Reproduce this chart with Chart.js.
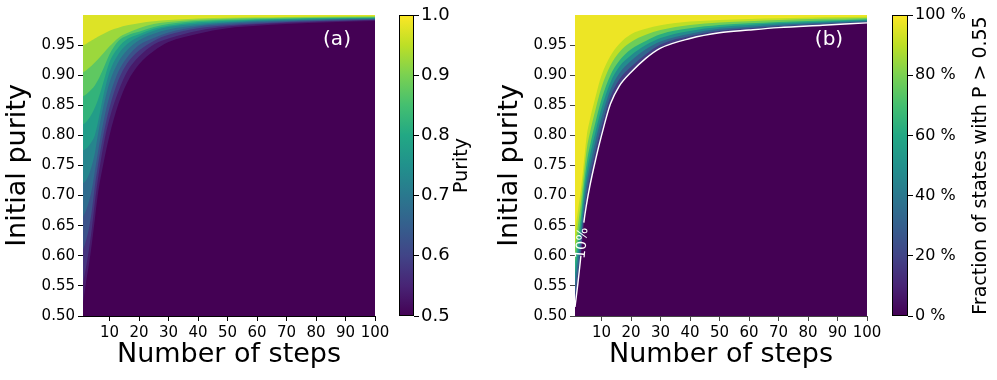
<!DOCTYPE html>
<html><head><meta charset="utf-8">
<script src="https://cdn.jsdelivr.net/npm/chart.js@4.4.1/dist/chart.umd.min.js"></script>
<style>
html,body{margin:0;padding:0;background:#fff;}
#wrap{position:relative;width:997px;height:380px;overflow:hidden;background:#fff;}
#wrap canvas{position:absolute;top:0;}
</style></head><body>
<div id="wrap">
<canvas id="heatA" width="400" height="380" style="left:0px"></canvas>
<canvas id="barA" width="117" height="380" style="left:380px"></canvas>
<canvas id="heatB" width="400" height="380" style="left:492px"></canvas>
<canvas id="barB" width="124" height="380" style="left:873px"></canvas>
</div>
<script>
// ---------------- data ----------------
const stepsGrid = [1, 2, 3, 4, 5, 6, 8, 10, 13, 16, 20, 25, 30, 40, 50, 60, 70, 85, 100];

// Panel (a): initial purity at which the purity after n steps equals each level
const purityLevels = [0.52, 0.55, 0.60, 0.65, 0.70, 0.75, 0.80, 0.85, 0.90, 0.95];
const p0AtP052 = [0.522, 0.555, 0.585, 0.620, 0.660, 0.700, 0.755, 0.800, 0.852, 0.888, 0.918, 0.940, 0.955, 0.969, 0.978, 0.982, 0.985, 0.988, 0.990];
const p0AtP055 = [0.555, 0.580, 0.610, 0.645, 0.688, 0.725, 0.785, 0.828, 0.873, 0.906, 0.931, 0.951, 0.961, 0.974, 0.981, 0.9845, 0.987, 0.9897, 0.9915];
const p0AtP060 = [0.610, 0.625, 0.645, 0.675, 0.715, 0.748, 0.803, 0.846, 0.892, 0.920, 0.941, 0.957, 0.967, 0.978, 0.983, 0.986, 0.9883, 0.9905, 0.9921];
const p0AtP065 = [0.665, 0.675, 0.690, 0.710, 0.740, 0.770, 0.824, 0.865, 0.906, 0.930, 0.950, 0.962, 0.971, 0.981, 0.985, 0.9878, 0.9898, 0.9917, 0.993];
const p0AtP070 = [0.720, 0.725, 0.735, 0.750, 0.770, 0.800, 0.850, 0.888, 0.922, 0.942, 0.958, 0.969, 0.976, 0.983, 0.987, 0.9895, 0.991, 0.9928, 0.9938];
const p0AtP075 = [0.775, 0.778, 0.783, 0.790, 0.800, 0.820, 0.868, 0.905, 0.935, 0.952, 0.964, 0.974, 0.980, 0.9855, 0.9885, 0.9908, 0.9921, 0.9935, 0.9945];
const p0AtP080 = [0.818, 0.822, 0.828, 0.836, 0.846, 0.858, 0.890, 0.922, 0.946, 0.960, 0.968, 0.977, 0.982, 0.9878, 0.9905, 0.9921, 0.9932, 0.9944, 0.9953];
const p0AtP085 = [0.865, 0.868, 0.872, 0.877, 0.883, 0.891, 0.912, 0.935, 0.957, 0.966, 0.972, 0.980, 0.985, 0.990, 0.992, 0.9935, 0.9943, 0.9953, 0.996];
const p0AtP090 = [0.905, 0.908, 0.912, 0.916, 0.921, 0.926, 0.937, 0.948, 0.962, 0.970, 0.978, 0.985, 0.9885, 0.9922, 0.9938, 0.995, 0.9956, 0.9964, 0.9969];
const p0AtP095 = [0.950, 0.952, 0.955, 0.958, 0.961, 0.964, 0.969, 0.974, 0.979, 0.983, 0.9865, 0.9895, 0.9915, 0.994, 0.9953, 0.9962, 0.9968, 0.9974, 0.9978];

// Panel (b): initial purity at which the fraction of states with P > 0.55 equals each level (%)
const fractionLevels = [10, 25, 40, 55, 70, 85, 95];
const p0AtF10 = [0.515, 0.555, 0.600, 0.655, 0.688, 0.715, 0.760, 0.800, 0.852, 0.882, 0.905, 0.928, 0.945, 0.961, 0.9705, 0.975, 0.979, 0.983, 0.987];
const p0AtF25 = [0.534, 0.573, 0.617, 0.670, 0.705, 0.732, 0.776, 0.815, 0.864, 0.893, 0.914, 0.935, 0.951, 0.965, 0.9737, 0.9778, 0.9814, 0.985, 0.9885];
const p0AtF40 = [0.553, 0.591, 0.633, 0.685, 0.722, 0.748, 0.792, 0.830, 0.876, 0.903, 0.924, 0.943, 0.956, 0.969, 0.977, 0.9806, 0.9837, 0.987, 0.9901];
const p0AtF55 = [0.571, 0.609, 0.650, 0.700, 0.738, 0.765, 0.807, 0.845, 0.888, 0.914, 0.933, 0.950, 0.962, 0.9736, 0.980, 0.9833, 0.9861, 0.9889, 0.9916];
const p0AtF70 = [0.590, 0.627, 0.666, 0.715, 0.755, 0.781, 0.823, 0.860, 0.900, 0.924, 0.943, 0.957, 0.968, 0.9778, 0.9832, 0.9861, 0.9885, 0.9909, 0.9931];
const p0AtF85 = [0.615, 0.651, 0.688, 0.735, 0.778, 0.803, 0.844, 0.880, 0.916, 0.938, 0.955, 0.967, 0.975, 0.9834, 0.9875, 0.9898, 0.9916, 0.9936, 0.9952];
const p0AtF95 = [0.640, 0.675, 0.710, 0.755, 0.800, 0.825, 0.865, 0.900, 0.932, 0.952, 0.968, 0.977, 0.983, 0.989, 0.9917, 0.9935, 0.9948, 0.9962, 0.9972];

// ticks
const stepTicks = [10, 20, 30, 40, 50, 60, 70, 80, 90, 100];
const purityTicks = [0.50, 0.55, 0.60, 0.65, 0.70, 0.75, 0.80, 0.85, 0.90, 0.95];
const purityBarTicks = [0.5, 0.6, 0.7, 0.8, 0.9, 1.0];
const fractionBarTicks = [0, 20, 40, 60, 80, 100];

// ---------------- styling helpers ----------------
const FONT = "'DejaVu Sans', sans-serif";
const VIRIDIS = ['#440154','#482475','#414487','#355f8d','#2a788e','#21918c','#22a884','#44bf70','#7ad151','#bddf26','#fde725'];
function hexRgb(h){return [parseInt(h.slice(1,3),16),parseInt(h.slice(3,5),16),parseInt(h.slice(5,7),16)];}
function viridis(t){
  t = Math.max(0, Math.min(1, t));
  const s = t * 10, i = Math.min(9, Math.floor(s)), f = s - i;
  const a = hexRgb(VIRIDIS[i]), b = hexRgb(VIRIDIS[i+1]);
  return 'rgb(' + a.map((v,k)=>Math.round(v + (b[k]-v)*f)).join(',') + ')';
}

function contourSets(levels, contours, lo, hi){
  return levels.map((lv, i) => {
    const next = i < levels.length - 1 ? levels[i+1] : hi;
    const mid = (lv + next) / 2;
    return {
      data: stepsGrid.map((s, j) => ({x: s, y: contours[i][j]})),
      fill: 'end',
      backgroundColor: viridis((mid - lo) / (hi - lo)),
      borderWidth: 0,
      borderColor: 'rgba(0,0,0,0)',
      pointRadius: 0,
      cubicInterpolationMode: 'monotone',
      order: levels.length - i + 5
    };
  });
}

const floorPlugin = {
  id: 'floor',
  beforeDatasetsDraw(chart){
    const {ctx, chartArea: a} = chart;
    ctx.save();
    ctx.fillStyle = VIRIDIS[0];
    ctx.fillRect(a.left, a.top, a.right - a.left, a.bottom - a.top);
    ctx.restore();
  }
};
const panelLabelPlugin = {
  id: 'panelLabel',
  afterDraw(chart, args, opts){
    const {ctx, chartArea: a} = chart;
    ctx.save();
    ctx.font = '20px ' + FONT;
    ctx.fillStyle = '#fff';
    ctx.textAlign = 'center';
    ctx.textBaseline = 'middle';
    ctx.fillText(opts.text, a.right - 38, a.top + 25);
    ctx.restore();
  }
};

function heatOptions(label, axisColor){
  return {
    responsive: false,
    animation: false,
    events: [],
    layout: {padding: {left: 0, right: 25, top: 15, bottom: 0}},
    plugins: {legend: {display: false}, tooltip: {enabled: false}, panelLabel: {text: label}},
    scales: {
      x: {
        type: 'linear', min: 1, max: 100, z: 1,
        afterBuildTicks: s => { s.ticks = stepTicks.map(v => ({value: v})); },
        afterFit: s => { s.height = 64; },
        grid: {color: 'rgba(255,255,255,0.28)', lineWidth: 1, tickColor: axisColor, tickLength: 5, tickWidth: 1},
        border: {display: true, color: axisColor, width: 1},
        ticks: {font: {family: FONT, size: 15}, color: '#000', padding: 3, maxRotation: 0, autoSkip: false},
        title: {display: true, text: 'Number of steps', color: '#000', font: {family: FONT, size: 27}, padding: {top: 0, bottom: 9}}
      },
      y: {
        type: 'linear', min: 0.5, max: 1.0, z: 1,
        afterBuildTicks: s => { s.ticks = purityTicks.map(v => ({value: v})); },
        afterFit: s => { s.width = 83; },
        grid: {color: 'rgba(255,255,255,0.28)', lineWidth: 1, tickColor: axisColor, tickLength: 5, tickWidth: 1},
        border: {display: true, color: axisColor, width: 1},
        ticks: {font: {family: FONT, size: 15}, color: '#000', padding: 3, autoSkip: false, callback: v => Number(v).toFixed(2)},
        title: {display: true, text: 'Initial purity', color: '#000', font: {family: FONT, size: 27}, padding: {top: 2, bottom: 0}}
      }
    }
  };
}

// ---------------- panel (a) ----------------
new Chart(document.getElementById('heatA'), {
  type: 'line',
  data: {datasets: contourSets(purityLevels,
    [p0AtP052, p0AtP055, p0AtP060, p0AtP065, p0AtP070, p0AtP075, p0AtP080, p0AtP085, p0AtP090, p0AtP095], 0.5, 1.0)},
  options: heatOptions('(a)', '#000'),
  plugins: [floorPlugin, panelLabelPlugin]
});

// ---------------- panel (b) ----------------
const gapLow = 0.60, gapHigh = 0.655;
const tenPctLine = {
  data: stepsGrid.map((s, j) => ({x: s, y: p0AtF10[j]})),
  fill: false,
  borderColor: '#fff',
  borderWidth: 1.4,
  pointRadius: 0,
  cubicInterpolationMode: 'monotone',
  segment: {borderColor: c => (c.p0.parsed.y >= gapLow && c.p1.parsed.y <= gapHigh) ? 'rgba(0,0,0,0)' : '#fff'},
  order: 0
};
const tenPctLabel = {
  id: 'tenPctLabel',
  afterDatasetsDraw(chart){
    const {ctx, scales: {x, y}} = chart;
    const j = p0AtF10.findIndex(v => v >= gapLow);
    const x0 = x.getPixelForValue(stepsGrid[j]), y0 = y.getPixelForValue(p0AtF10[j]);
    const x1 = x.getPixelForValue(stepsGrid[j+1]), y1 = y.getPixelForValue(p0AtF10[j+1]);
    ctx.save();
    ctx.translate((x0 + x1) / 2, (y0 + y1) / 2 + 4);
    ctx.rotate(Math.atan2(y1 - y0, x1 - x0));
    ctx.font = '14px ' + FONT;
    ctx.fillStyle = '#fff';
    ctx.textAlign = 'center';
    ctx.textBaseline = 'middle';
    ctx.fillText('10%', 0, 0);
    ctx.restore();
  }
};
new Chart(document.getElementById('heatB'), {
  type: 'line',
  data: {datasets: contourSets(fractionLevels,
    [p0AtF10, p0AtF25, p0AtF40, p0AtF55, p0AtF70, p0AtF85, p0AtF95], 0, 100).concat([tenPctLine])},
  options: heatOptions('(b)', '#444'),
  plugins: [floorPlugin, tenPctLabel, panelLabelPlugin]
});

// ---------------- colorbars ----------------
function colorbar(id, padLeft, barW, canvasW, min, max, ticks, fmt, tickSize, title, titleSize, titleOffset){
  const plugin = {
    id: 'cbar',
    afterDraw(chart){
      const {ctx, chartArea: a} = chart;
      ctx.save();
      const g = ctx.createLinearGradient(0, a.bottom, 0, a.top);
      VIRIDIS.forEach((c, i) => g.addColorStop(i / 10, c));
      ctx.fillStyle = g;
      ctx.fillRect(a.left, a.top, a.right - a.left, a.bottom - a.top);
      ctx.strokeStyle = '#000';
      ctx.lineWidth = 1;
      ctx.strokeRect(a.left + 0.5, a.top + 0.5, a.right - a.left - 1, a.bottom - a.top - 1);
      ctx.translate(a.right + titleOffset, (a.top + a.bottom) / 2);
      ctx.rotate(-Math.PI / 2);
      ctx.font = titleSize + 'px ' + FONT;
      ctx.fillStyle = '#000';
      ctx.textAlign = 'center';
      ctx.textBaseline = 'middle';
      ctx.fillText(title, 0, 0);
      ctx.restore();
    }
  };
  new Chart(document.getElementById(id), {
    type: 'line',
    data: {datasets: []},
    options: {
      responsive: false, animation: false, events: [],
      layout: {padding: {left: padLeft, right: 0, top: 15, bottom: 64}},
      plugins: {legend: {display: false}, tooltip: {enabled: false}},
      scales: {
        x: {type: 'linear', min: 0, max: 1, display: false},
        y: {
          type: 'linear', position: 'right', min: min, max: max,
          afterBuildTicks: s => { s.ticks = ticks.map(v => ({value: v})); },
          afterFit: s => { s.width = canvasW - padLeft - barW; },
          grid: {drawOnChartArea: false, tickColor: '#000', tickLength: 5, tickWidth: 1},
          border: {display: false},
          ticks: {font: {family: FONT, size: tickSize}, color: '#000', padding: 2, autoSkip: false, callback: fmt}
        }
      }
    },
    plugins: [plugin]
  });
}
colorbar('barA', 19, 15, 117, 0.5, 1.0, purityBarTicks, v => Number(v).toFixed(1), 18, 'Purity', 19, 48);
colorbar('barB', 19, 16, 124, 0, 100, fractionBarTicks, v => v + ' %', 16, 'Fraction of states with P > 0.55', 19, 73);
</script>
</body></html>
